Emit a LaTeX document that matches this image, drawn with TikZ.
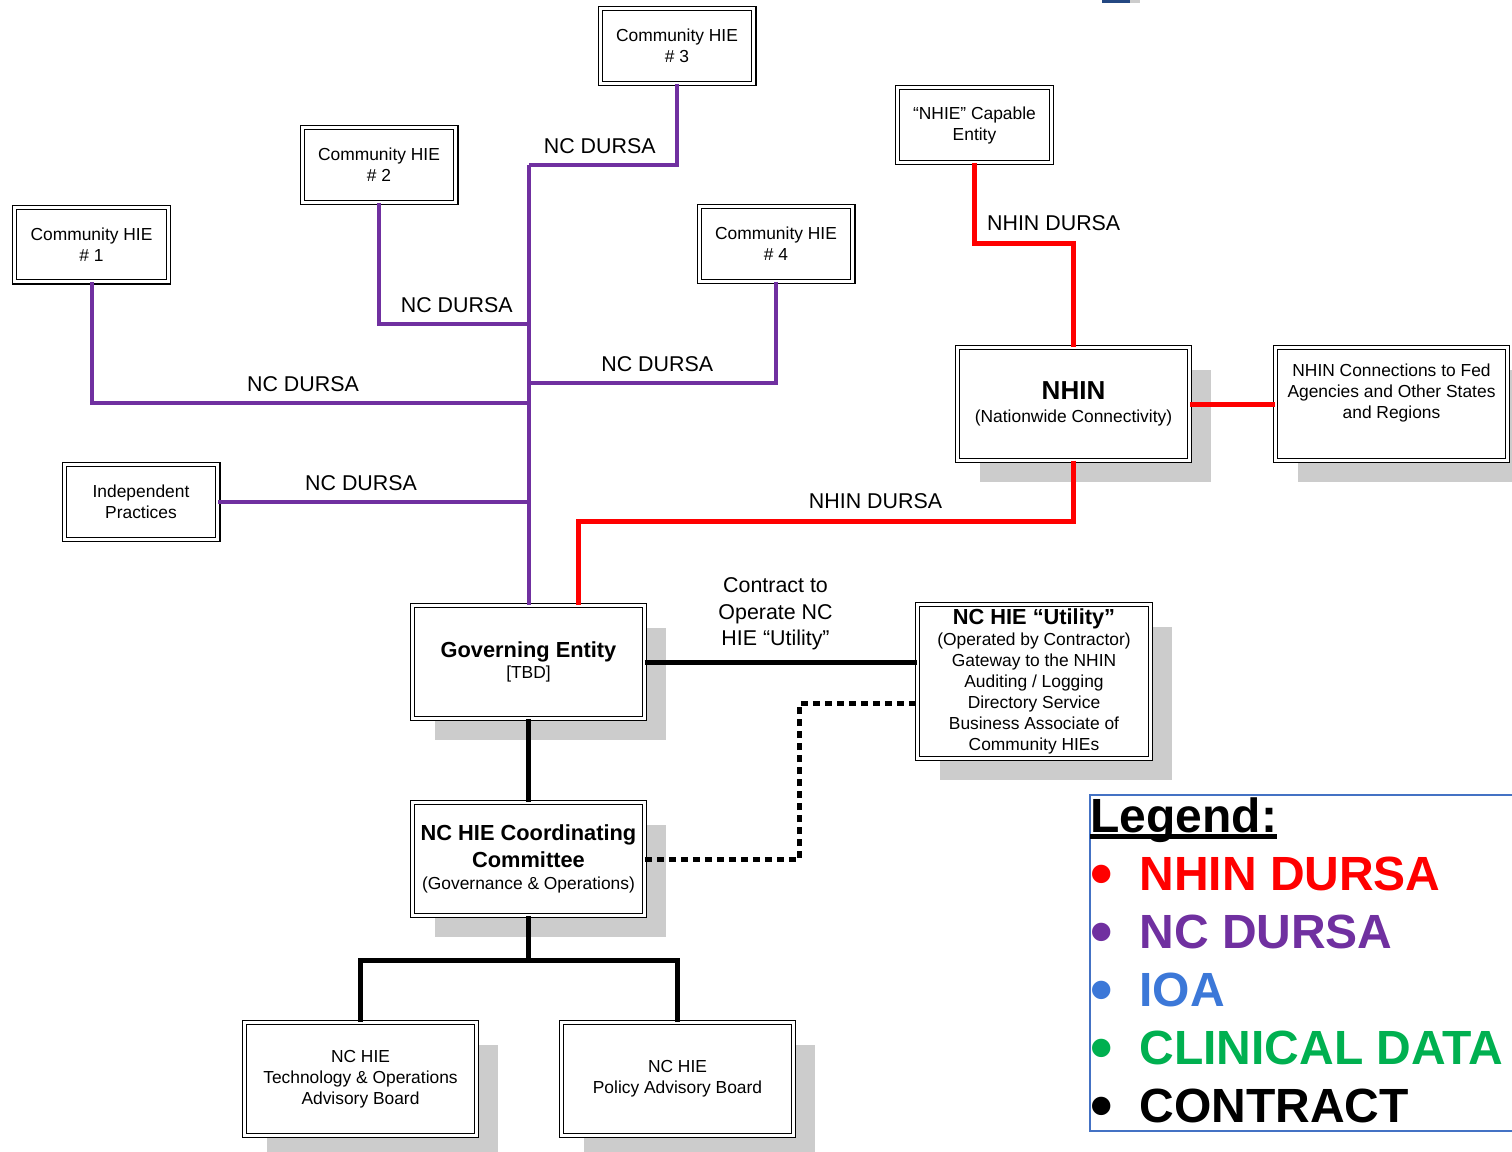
\documentclass[tikz,border=0pt]{standalone}
\usepackage{fontspec}
\setmainfont{Liberation Sans}
\usetikzlibrary{shadows}

\definecolor{ncpurple}{HTML}{7030A0}
\definecolor{nhinred}{HTML}{FF0000}
\definecolor{ioablue}{HTML}{3C78D8}
\definecolor{clingreen}{HTML}{00B050}
\definecolor{legendblue}{HTML}{4472C4}
\definecolor{shadowgray}{HTML}{CCCCCC}

\newcommand{\boxfont}{\fontsize{8.7}{10.5}\selectfont}
\newcommand{\lblfont}{\fontsize{10.7}{13.3}\selectfont}
\newcommand{\headfont}{\fontsize{10.9}{13.5}\selectfont\bfseries}
\newcommand{\legfont}{\fontsize{24}{29}\selectfont\bfseries}
\newcommand{\legendul}[1]{\setbox0\hbox{#1}\rlap{\rule[-3.3pt]{\wd0}{2.4pt}}\box0}
\newcommand{\legbullet}{\makebox[24.5pt][l]{\raisebox{-2.5pt}{\fontsize{32}{29}\selectfont •}}}

\tikzset{
  hiebox/.style={draw, double, double distance=1.4pt, line width=0.65pt, fill=white,
    align=center, font=\boxfont, inner sep=0pt},
  smallbox/.style={hiebox, minimum width=76.8pt, minimum height=37.3pt},
  shadowed/.style={drop shadow={shadow xshift=11pt, shadow yshift=-11pt,
    fill=shadowgray, opacity=1}},
  bigbox/.style={hiebox, shadowed, minimum width=115.8pt, minimum height=56.3pt},
  ncdursa/.style={draw=ncpurple, line width=2pt},
  nhindursa/.style={draw=nhinred, line width=2.5pt},
  contract/.style={draw=black, line width=2.5pt},
  ioaline/.style={draw=black, line width=2.5pt, dash pattern=on 3.5pt off 2.5pt},
  lbl/.style={font=\lblfont, inner sep=1pt, above=3.7pt},
  legenditem/.style={font=\legfont, anchor=base west, inner sep=0pt},
}

\begin{document}
\begin{tikzpicture}[x=0.5pt, y=-0.5pt]
  \useasboundingbox (0,0) rectangle (1512,1152);

  % member HIEs
  \node[smallbox] (chie3) at (677,46) {Community HIE\\\# 3};
  \node[smallbox] (chie2) at (379,165) {Community HIE\\\# 2};
  \node[smallbox] (chie1) at (91.5,244.5) {Community HIE\\\# 1};
  \node[smallbox] (chie4) at (776,244) {Community HIE\\\# 4};
  \node[smallbox] (nhie) at (974.5,125) {“NHIE” Capable\\Entity};
  \node[smallbox] (indep) at (141,502) {Independent\\Practices};

  % nationwide side
  \node[bigbox] (nhin) at (1073.5,404) {{\fontsize{13}{15}\selectfont\bfseries NHIN}\\[1pt](Nationwide Connectivity)};
  \node[bigbox] (conn) at (1391.5,404) {};
  \node[align=center, font=\boxfont, inner sep=0pt] (conntxt) at ([yshift=5.5pt]conn.center)
    {NHIN Connections to Fed\\Agencies and Other States\\and Regions};

  % governance
  \node[bigbox] (gov) at (528.5,662) {{\headfont Governing Entity}\\{}[TBD]};
  \node[bigbox, minimum width=116.3pt, minimum height=76.8pt] (util) at (1034,681.5)
    {{\headfont NC HIE “Utility”}\\(Operated by Contractor)\\Gateway to the NHIN\\Auditing / Logging\\Directory Service\\Business Associate of\\Community HIEs};
  \node[bigbox] (coord) at (528.5,859) {{\headfont NC HIE Coordinating}\\[3pt]{\headfont Committee}\\[0.5pt](Governance \& Operations)};
  \node[bigbox] (tech) at (360.5,1079) {NC HIE\\Technology \& Operations\\Advisory Board};
  \node[bigbox] (policy) at (677.5,1079) {NC HIE\\Policy Advisory Board};

  % junctions
  \coordinate (j3) at (528.5,165);
  \coordinate (j2) at (528.5,324);
  \coordinate (j4) at (528.5,383);
  \coordinate (j1) at (528.5,403);
  \coordinate (rtop) at (1073.5,243);
  \coordinate (rlow) at (1073.5,521);
  \coordinate (split) at (528.5,960);

  % NC DURSA
  \draw[ncdursa] (j3) -- (gov.north);
  \draw[ncdursa] (chie3.south) |- (j3) node[lbl, pos=0.76] {NC DURSA};
  \draw[ncdursa] (chie2.south) |- (j2) node[lbl, pos=0.76] {NC DURSA};
  \draw[ncdursa] (chie1.south) |- (j1) node[lbl, pos=0.742] {NC DURSA};
  \draw[ncdursa] (chie4.south) |- (j4) node[lbl, pos=0.74] {NC DURSA};
  \draw[ncdursa] (indep.east) -- (indep.east -| j3) node[lbl, pos=0.46] {NC DURSA};

  % NHIN DURSA
  \draw[nhindursa] (nhie.south) |- (rtop) node[lbl, pos=0.9] {NHIN DURSA} -- (nhin.north);
  \draw[nhindursa] (nhin.east) -- (conn.west);
  \draw[nhindursa] (nhin.south) -- (rlow) -| ([xshift=25pt]gov.north) node[lbl, pos=0.2] {NHIN DURSA};

  % contracts
  \draw[contract] (gov.east) -- (gov.east -| util.west)
    node[lbl, pos=0.48, above=0pt, align=center] {Contract to\\Operate NC\\HIE “Utility”};
  \draw[contract] (gov.south) -- (coord.north);
  \draw[contract] (coord.south) -- (split);
  \draw[contract] (split) -| (tech.north);
  \draw[contract] (split) -| (policy.north);
  \draw[ioaline] (coord.east) -- ++(155,0) |- ([yshift=-10.75pt]util.west);

  % legend
  \node[draw=legendblue, line width=0.7pt, minimum width=220pt, minimum height=168pt] (legframe) at (1310,963) {};
  \node[legenditem] (leghead) at (1090,832) {\legendul{Legend:}};
  \foreach \txt/\col [count=\i] in {NHIN DURSA/nhinred, NC DURSA/ncpurple, IOA/ioablue,
      CLINICAL DATA/clingreen, CONTRACT/black}
    \node[legenditem, text=\col] (leg\i) at (1090,832+58*\i) {\legbullet\txt};

  \fill[ioablue!60!black] (1102,0) rectangle (1130,2.5);
  \fill[shadowgray] (1130,0) rectangle (1140,2.5);
\end{tikzpicture}
\end{document}
